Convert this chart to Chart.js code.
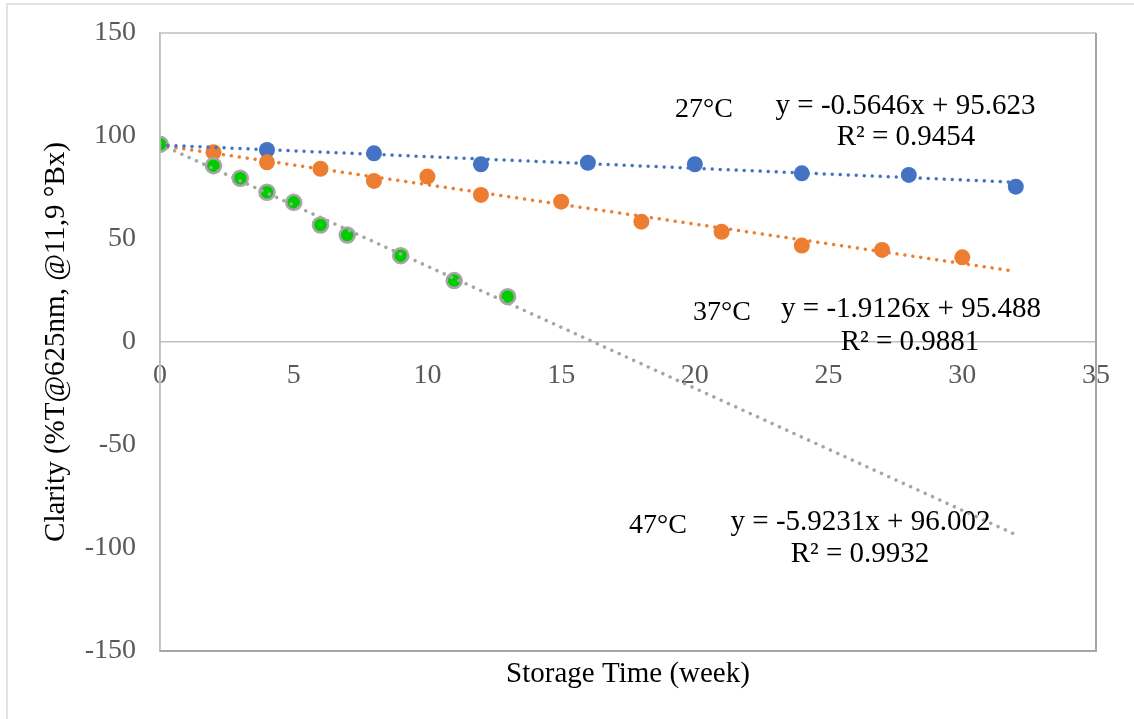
<!DOCTYPE html>
<html>
<head>
<meta charset="utf-8">
<script src="https://cdn.jsdelivr.net/npm/chart.js@4/dist/chart.umd.min.js"></script>
<style>
html,body{margin:0;padding:0;background:#fff;}
#wrap{width:1134px;height:719px;position:relative;}
</style>
</head>
<body>
<div id="wrap"><canvas id="c" width="1134" height="719"></canvas></div>
<script>
// ---- data ----
const weeks27 = [0, 4, 8, 12, 16, 20, 24, 28, 32];
const clarity27 = [96, 93.2, 91.6, 86.3, 87.0, 86.3, 81.9, 81.1, 75.4];

const weeks37 = [0, 2, 4, 6, 8, 10, 12, 15, 18, 21, 24, 27, 30];
const clarity37 = [96, 92.1, 87.2, 84.1, 78.2, 80.3, 71.4, 68.1, 58.4, 53.5, 46.8, 44.7, 41.1];

const weeks47 = [0, 2, 3, 4, 5, 6, 7, 9, 11, 13];
const clarity47 = [96, 85.6, 79.5, 72.7, 67.8, 56.8, 51.9, 41.9, 29.8, 22.0];

// linear trendline end points (from the displayed equations)
const trendX = [0, 32];
const trend27 = [95.623, 77.556];
const trend37 = [95.488, 34.285];
const trend47 = [96.002, -93.537];

const tempLabels = ["27°C", "37°C", "47°C"];
const eqLabels = ["y = -0.5646x + 95.623", "y = -1.9126x + 95.488", "y = -5.9231x + 96.002"];
const r2Labels = ["R² = 0.9454", "R² = 0.9881", "R² = 0.9932"];

const xTitle = "Storage Time (week)";
const yTitle = "Clarity (%T@625nm, @11,9 °Bx)";

const pts = (xs, ys) => xs.map((x, i) => ({x: x, y: ys[i]}));

const SERIF = '"Liberation Serif", "Times New Roman", serif';

const decor = {
  id: 'decor',
  beforeDraw(chart) {
    const ctx = chart.ctx;
    ctx.save();
    ctx.fillStyle = '#fff';
    ctx.fillRect(0, 0, chart.width, chart.height);
    // outer chart border (cropped on right/bottom)
    ctx.strokeStyle = '#D9D9D9';
    ctx.lineWidth = 1.5;
    ctx.beginPath();
    ctx.moveTo(7, 730); ctx.lineTo(7, 4); ctx.lineTo(1140, 4);
    ctx.stroke();
    ctx.restore();
  },
  afterDatasetsDraw(chart) {
    const ctx = chart.ctx;
    const a = chart.chartArea;
    ctx.save();
    // plot area border
    ctx.lineWidth = 1.5;
    ctx.strokeStyle = '#BFBFBF';
    ctx.beginPath();
    ctx.moveTo(a.left, a.bottom); ctx.lineTo(a.left, a.top); ctx.lineTo(a.right, a.top);
    ctx.stroke();
    ctx.strokeStyle = '#A6A6A6';
    ctx.lineWidth = 2;
    ctx.beginPath();
    ctx.moveTo(a.right, a.top); ctx.lineTo(a.right, a.bottom); ctx.lineTo(a.left, a.bottom);
    ctx.stroke();

    // annotations
    ctx.fillStyle = '#000';
    ctx.textAlign = 'center';
    ctx.textBaseline = 'alphabetic';
    ctx.font = '28px ' + SERIF;
    const tpos = [[704, 117], [722, 320], [658, 532.5]];
    tempLabels.forEach((t, i) => ctx.fillText(t, tpos[i][0], tpos[i][1]));
    ctx.font = '29px ' + SERIF;
    const epos = [[905.5, 113.5], [911, 316.5], [860.5, 529.5]];
    eqLabels.forEach((t, i) => ctx.fillText(t, epos[i][0], epos[i][1]));
    const rpos = [[906, 145], [910, 349.5], [860, 561.5]];
    r2Labels.forEach((t, i) => ctx.fillText(t, rpos[i][0], rpos[i][1]));

    // x axis title
    ctx.font = '29px ' + SERIF;
    ctx.fillText(xTitle, (a.left + a.right) / 2, 682);
    ctx.restore();
  }
};

const trendStyle = (color) => ({
  showLine: true,
  pointRadius: 0,
  borderColor: color,
  borderWidth: 3.5,
  borderDash: [0.01, 8],
  borderCapStyle: 'round',
  fill: false,
  order: 0
});

new Chart(document.getElementById('c'), {
  type: 'scatter',
  data: {
    datasets: [
      Object.assign({label: 'trend 27', data: pts(trendX, trend27)}, trendStyle('#4472C4')),
      Object.assign({label: 'trend 37', data: pts(trendX, trend37)}, trendStyle('#ED7D31')),
      Object.assign({label: 'trend 47', data: pts(trendX, trend47)}, trendStyle('#A5A5A5')),
      {
        label: '47°C', data: pts(weeks47, clarity47),
        pointRadius: 7.5, backgroundColor: '#00CC00', borderColor: '#A6A6A6', borderWidth: 2.5,
        order: 1
      },
      {
        label: '37°C', data: pts(weeks37, clarity37),
        pointRadius: 8, backgroundColor: '#ED7D31', borderColor: '#ED7D31', borderWidth: 0,
        order: 2
      },
      {
        label: '27°C', data: pts(weeks27, clarity27),
        pointRadius: 8, backgroundColor: '#4472C4', borderColor: '#4472C4', borderWidth: 0,
        order: 3
      }
    ]
  },
  options: {
    responsive: false,
    animation: false,
    events: [],
    layout: {padding: {left: 0, top: 33, right: 38, bottom: 68}},
    plugins: {legend: {display: false}, tooltip: {enabled: false}, title: {display: false}},
    scales: {
      x: {
        type: 'linear',
        position: {y: 0},
        min: 0, max: 35,
        ticks: {stepSize: 5, color: '#595959', font: {family: SERIF, size: 28}, padding: 17, maxRotation: 0},
        grid: {display: false, drawTicks: false},
        border: {display: true, color: '#BFBFBF', width: 1.5}
      },
      y: {
        type: 'linear',
        position: 'left',
        min: -150, max: 150,
        ticks: {stepSize: 50, color: '#595959', font: {family: SERIF, size: 28}, padding: 0},
        grid: {display: true, drawOnChartArea: false, drawTicks: true, tickLength: 24, color: 'rgba(0,0,0,0)'},
        border: {display: true, color: '#BFBFBF', width: 1.5},
        title: {display: true, text: yTitle, color: '#000', font: {family: SERIF, size: 29}, padding: {top: 39, bottom: 0}},
        afterFit(scale) { scale.width = 160; }
      }
    }
  },
  plugins: [decor]
});
</script>
</body>
</html>
